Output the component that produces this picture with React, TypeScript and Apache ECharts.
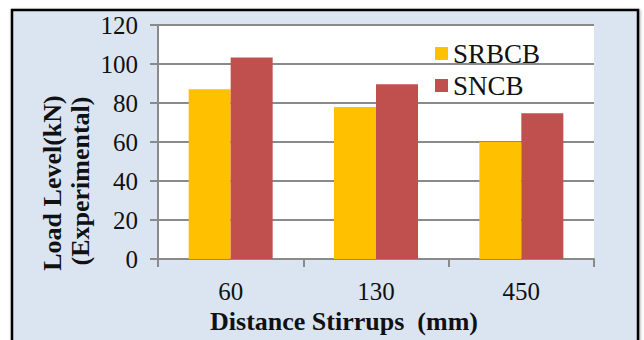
import React, { useEffect, useRef } from "react";
import * as echarts from "echarts";

// Stirrup spacing categories and measured load levels (kN)
const categories = ["60", "130", "450"];
const srbcbValues = [87, 78, 60];
const sncbValues = [103.3, 89.6, 74.7];
const yTicks = { min: 0, max: 120, interval: 20 };

const FONT = "Liberation Serif";
const GRID_GRAY = "#8a8a8a";

export default function App() {
  const ref = useRef<HTMLDivElement>(null);

  useEffect(() => {
    if (!ref.current) return;
    const chart = echarts.init(ref.current, null, { renderer: "svg" });
    const nameText = (text: string, x: number, y: number, rotation = 0) => ({
      type: "text",
      x,
      y,
      rotation,
      style: {
        text,
        fontFamily: FONT,
        fontSize: 26,
        fontWeight: "bold",
        fill: "#111",
        textAlign: "center",
        textVerticalAlign: "middle",
      },
    });
    chart.setOption({
      animation: false,
      backgroundColor: "#ffffff",
      textStyle: { fontFamily: FONT, color: "#111" },
      graphic: [
        {
          type: "rect",
          z: -10,
          silent: true,
          shape: { x: 12, y: 10, width: 626, height: 345 },
          style: {
            fill: "#dbe5f1",
            stroke: "#000",
            lineWidth: 2.5,
            shadowColor: "rgba(0,0,0,0.35)",
            shadowBlur: 3,
            shadowOffsetX: 1,
            shadowOffsetY: 1,
          },
        },
        nameText("Load Level(kN)", 52, 183, Math.PI / 2),
        nameText("(Experimental)", 80, 181, Math.PI / 2),
        nameText("Distance Stirrups  (mm)", 344, 321),
      ],
      grid: {
        left: 158,
        right: 50,
        top: 25,
        bottom: 81,
        show: true,
        backgroundColor: "#ffffff",
        borderWidth: 0,
      },
      legend: {
        orient: "vertical",
        left: 430,
        top: 35,
        itemWidth: 13,
        itemHeight: 13,
        itemGap: 5,
        icon: "rect",
        textStyle: { fontFamily: FONT, fontSize: 27, color: "#111" },
        data: ["SRBCB", "SNCB"],
      },
      xAxis: {
        type: "category",
        data: categories,
        axisLine: { lineStyle: { color: GRID_GRAY, width: 2 } },
        axisTick: { show: true, length: 8, lineStyle: { color: GRID_GRAY, width: 2 } },
        axisLabel: { fontFamily: FONT, fontSize: 25, color: "#111", margin: 20 },
      },
      yAxis: {
        type: "value",
        min: yTicks.min,
        max: yTicks.max,
        interval: yTicks.interval,
        axisLine: { show: true, lineStyle: { color: GRID_GRAY, width: 2 } },
        axisTick: { show: true, length: 8, lineStyle: { color: GRID_GRAY, width: 2 } },
        splitLine: { lineStyle: { color: GRID_GRAY, width: 2 } },
        axisLabel: { fontFamily: FONT, fontSize: 25, color: "#111", margin: 20 },
      },
      series: [
        {
          name: "SRBCB",
          type: "bar",
          data: srbcbValues,
          barWidth: 42,
          barGap: "0%",
          itemStyle: { color: "#ffc000" },
        },
        {
          name: "SNCB",
          type: "bar",
          data: sncbValues,
          barWidth: 42,
          itemStyle: { color: "#c0504d" },
        },
      ],
    });
    return () => chart.dispose();
  }, []);

  return (
    <div
      ref={ref}
      style={{ position: "fixed", left: 0, top: 0, width: 644, height: 340 }}
    />
  );
}
